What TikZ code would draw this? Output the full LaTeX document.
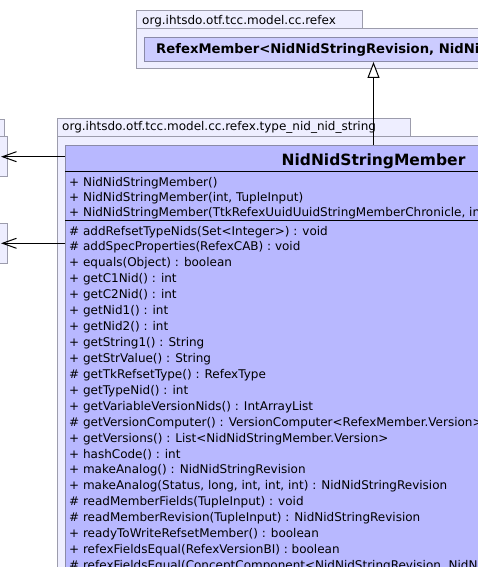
\documentclass[tikz,border=0pt]{standalone}
\usepackage{fontspec}
\setmainfont{DejaVu Sans}
\usepackage{tikz}
\usetikzlibrary{arrows.meta}

\definecolor{pkgfill}{HTML}{EEEEFF}
\definecolor{pkgline}{HTML}{9C9CAC}
\definecolor{clsfill}{HTML}{B8B8FF}
\definecolor{clsfilltop}{HTML}{CCCCFF}
\definecolor{clsline}{HTML}{8A8AA8}

\begin{document}
\begin{tikzpicture}[x=1pt, y=-1pt,
        pkg/.style={draw=pkgline, fill=pkgfill, line width=1pt},
        cls/.style={draw=clsline, fill=clsfill, line width=1pt, inner sep=0pt, anchor=north west},
        pkglabel/.style={anchor=base west, inner sep=0pt, font=\fontsize{12}{14}\selectfont},
        row/.style={anchor=base west, inner sep=0pt, font=\fontsize{12}{14}\selectfont},
        inherit/.style={-{Triangle[length=16pt, width=12pt, fill=white]}, line width=1pt},
        assoc/.style={-{Straight Barb[length=14pt, width=10pt]}, line width=1pt}]
        \useasboundingbox (0,0) rectangle (478,567);
        \clip (0,0) rectangle (478,567);

        \draw[pkg] (136,11) rectangle (362,29);
        \draw[pkg] (136,29) rectangle (520,69);
        \node[pkglabel] (refexPkg) at (142,24.5) {org.ihtsdo.otf.tcc.model.cc.refex};
        \node[cls, fill=clsfilltop, minimum width=400pt, minimum height=24pt] (refexMember) at (144,37) {};
        \node[anchor=base west, inner sep=0pt, font=\bfseries\fontsize{13.2}{16}\selectfont] (refexMemberName) at (156,54) {RefexMember<NidNidStringRevision, NidNidStringMember.Version>};

        \draw[pkg] (-20,120) rectangle (4,136);
        \draw[pkg] (-20,136) rectangle (7,176);
        \draw[pkg] (-20,223) rectangle (7,263);
        \coordinate (leftA) at (1,156.7);
        \coordinate (leftB) at (1,243.3);

        \draw[pkg] (57,119) rectangle (410,136);
        \draw[pkg] (57,136) rectangle (720,640);
        \node[pkglabel] (typePkg) at (62,131) {org.ihtsdo.otf.tcc.model.cc.refex.type\_nid\_nid\_string};
        \node[cls, minimum width=616pt, minimum height=480pt] (nidMember) at (65,145) {};
        \node[anchor=base, inner sep=0pt, font=\bfseries\fontsize{15.5}{18}\selectfont] (nidMemberName) at (nidMember.north |- 0,165) {NidNidStringMember};
        \draw (nidMember.west |- 0,171) -- (nidMember.east |- 0,171);
        \draw (nidMember.west |- 0,220) -- (nidMember.east |- 0,220);

        \foreach \txt [count=\i from 0] in {
            {+ NidNidStringMember()},
            {+ NidNidStringMember(int, TupleInput)},
            {+ NidNidStringMember(TtkRefexUuidUuidStringMemberChronicle, int)}}
            \node[row] (ctor\i) at (69,{186.5+15*\i}) {\txt};

        \foreach \txt [count=\i from 0] in {
            {\# addRefsetTypeNids(Set<Integer>) : void},
            {\# addSpecProperties(RefexCAB) : void},
            {+ equals(Object) : boolean},
            {+ getC1Nid() : int},
            {+ getC2Nid() : int},
            {+ getNid1() : int},
            {+ getNid2() : int},
            {+ getString1() : String},
            {+ getStrValue() : String},
            {\# getTkRefsetType() : RefexType},
            {+ getTypeNid() : int},
            {+ getVariableVersionNids() : IntArrayList},
            {\# getVersionComputer() : VersionComputer<RefexMember.Version>},
            {+ getVersions() : List<NidNidStringMember.Version>},
            {+ hashCode() : int},
            {+ makeAnalog() : NidNidStringRevision},
            {+ makeAnalog(Status, long, int, int, int) : NidNidStringRevision},
            {\# readMemberFields(TupleInput) : void},
            {\# readMemberRevision(TupleInput) : NidNidStringRevision},
            {+ readyToWriteRefsetMember() : boolean},
            {+ refexFieldsEqual(RefexVersionBI) : boolean},
            {\# refexFieldsEqual(ConceptComponent<NidNidStringRevision, NidNidStringMember>) : boolean}}
            \node[row] (method\i) at (69,{235+15.93*\i}) {\txt};

        \draw[inherit] (nidMember.north) -- (nidMember.north |- refexMember.south);
        \draw[assoc] (nidMember.west |- leftA) -- (leftA);
        \draw[assoc] (nidMember.west |- leftB) -- (leftB);
    \end{tikzpicture}
\end{document}
